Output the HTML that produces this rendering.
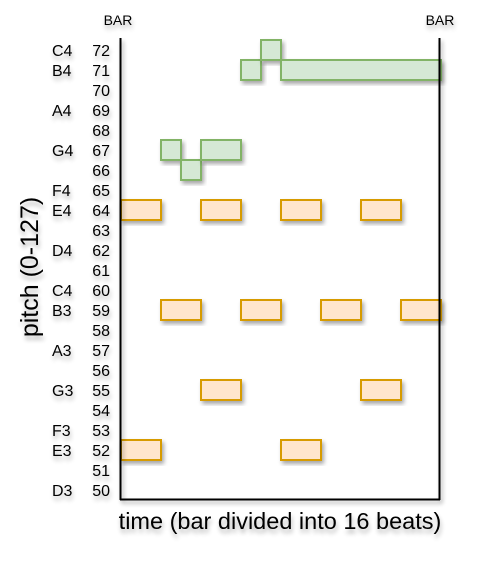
<!DOCTYPE html>
<html><head><meta charset="utf-8"><style>
body{margin:0;background:#fff;}
svg text{font-family:"Liberation Sans",Arial,sans-serif;fill:#000;}
</style></head><body>
<svg id="c" width="494" height="564" viewBox="0 0 494 564">
<defs><filter id="sh" x="-30%" y="-30%" width="160%" height="160%"><feGaussianBlur in="SourceAlpha" stdDeviation="2"/><feOffset dx="2" dy="3"/><feComponentTransfer><feFuncA type="linear" slope="0.35"/></feComponentTransfer><feMerge><feMergeNode/><feMergeNode in="SourceGraphic"/></feMerge></filter>
<filter id="tsh" x="-30%" y="-30%" width="160%" height="180%"><feGaussianBlur in="SourceAlpha" stdDeviation="2.5"/><feOffset dx="1" dy="4"/><feComponentTransfer><feFuncA type="linear" slope="0.3"/></feComponentTransfer><feMerge><feMergeNode/><feMergeNode in="SourceGraphic"/></feMerge></filter></defs>
<g id="labels" filter="url(#tsh)"></g>
<g id="notes"></g>
<g filter="url(#sh)">
<line x1="120.5" y1="38" x2="120.5" y2="500" stroke="#000" stroke-width="2"/>
<line x1="439.5" y1="38" x2="439.5" y2="500" stroke="#000" stroke-width="2"/>
<line x1="120" y1="499.5" x2="440" y2="499.5" stroke="#000" stroke-width="2"/>
</g>
<g filter="url(#tsh)">
<text x="118" y="25" font-size="14" text-anchor="middle">BAR</text>
<text x="440" y="25" font-size="14" text-anchor="middle">BAR</text>
<text x="280" y="529" font-size="23.5" text-anchor="middle">time (bar divided into 16 beats)</text>
<text transform="translate(38,267) rotate(-90)" font-size="25" text-anchor="middle">pitch (0-127)</text>
</g>
</svg>
<script>
const pitches=[72,71,70,69,68,67,66,65,64,63,62,61,60,59,58,57,56,55,54,53,52,51,50];
const noteNames={72:"C4",71:"B4",69:"A4",67:"G4",65:"F4",64:"E4",62:"D4",60:"C4",59:"B3",57:"A3",55:"G3",53:"F3",52:"E3",50:"D3"};
const orangeStarts=[0,4,8,12,2,6,10,14,4,12,0,8];
const orangePitches=[64,64,64,64,59,59,59,59,55,55,52,52];
const orangeLens=[2,2,2,2,2,2,2,2,2,2,2,2];
const greenStarts=[2,3,4,6,7,8];
const greenPitches=[67,66,67,71,72,71];
const greenLens=[1,1,2,1,1,8];
const NS="http://www.w3.org/2000/svg";
const xS=b=>120+b*20;
const yS=p=>50+(72-p)*20;
const L=document.getElementById('labels');
pitches.forEach(p=>{
 const t=document.createElementNS(NS,'text');
 t.setAttribute('x',110);t.setAttribute('y',yS(p)+6);t.setAttribute('font-size',16);t.setAttribute('text-anchor','end');
 t.textContent=p;
 
 
 L.appendChild(t);
 if(noteNames[p]){
  const n=document.createElementNS(NS,'text');
  n.setAttribute('x',52);n.setAttribute('y',yS(p)+6);n.setAttribute('font-size',16);
  n.textContent=noteNames[p];
  
  
  L.appendChild(n);
 }
});
const N=document.getElementById('notes');
function draw(starts,ps,lens,fill,stroke,name){
 starts.forEach((s,i)=>{
  const r=document.createElementNS(NS,'rect');
  r.setAttribute('x',xS(s)+1);r.setAttribute('y',yS(ps[i])-10);
  r.setAttribute('width',lens[i]*20);r.setAttribute('height',20);
  r.setAttribute('fill',fill);r.setAttribute('stroke',stroke);r.setAttribute('stroke-width',2);
  r.setAttribute('filter','url(#sh)');
  
  
  N.appendChild(r);
 });
}
draw(orangeStarts,orangePitches,orangeLens,'#ffe6cc','#d79b00','orange-note');
draw(greenStarts,greenPitches,greenLens,'#d5e8d4','#82b366','green-note');
</script>
</body></html>
